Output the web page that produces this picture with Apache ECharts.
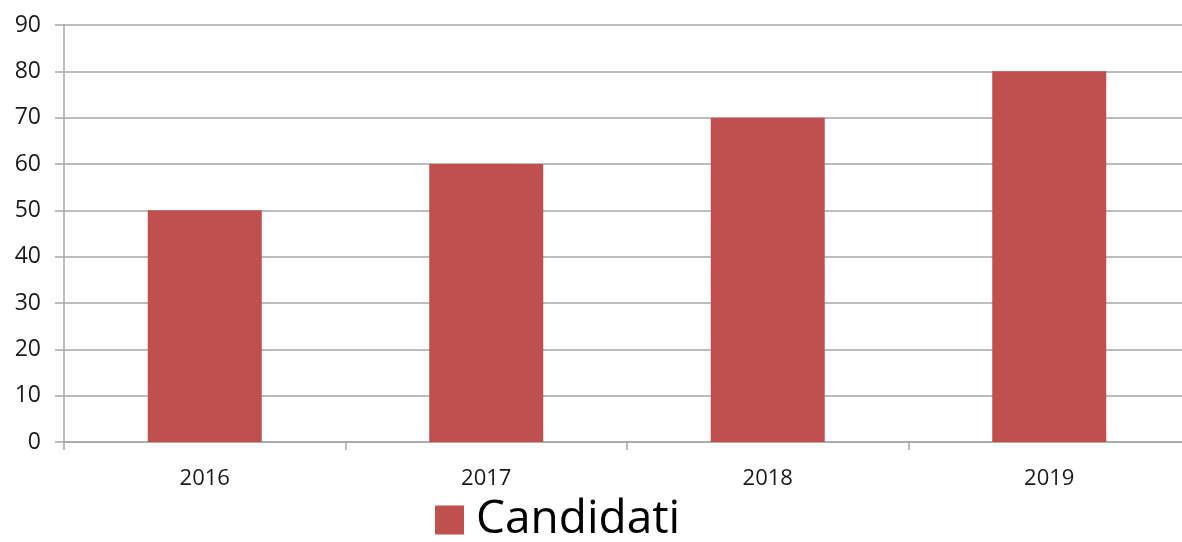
<!DOCTYPE html>
<html><head><meta charset="utf-8">
<script src="https://cdn.jsdelivr.net/npm/echarts@6/dist/echarts.min.js"></script>
<style>html,body{margin:0;padding:0;background:#fff;overflow:hidden}#c{width:1190px;height:542px}</style>
</head><body><div id="c"></div>
<script>
const categories = ['2016', '2017', '2018', '2019'];
const candidati = [50, 60, 70, 80];
const seriesName = 'Candidati';

const chart = echarts.init(document.getElementById('c'), null, {renderer: 'canvas'});
const axisGray = '#a6a6a6';
chart.setOption({
  animation: false,
  textStyle: {fontFamily: 'Open Sans'},
  grid: {left: 64, top: 25, right: 0, height: 417, containLabel: false},
  legend: {
    data: [seriesName], top: 497, left: 435, padding: 0,
    icon: 'rect', itemWidth: 29, itemHeight: 29, itemGap: 14,
    textStyle: {fontSize: 46, color: '#000', fontFamily: 'Open Sans', padding: [0, 0, 0, 7]}
  },
  xAxis: {
    type: 'category', data: categories,
    axisLine: {lineStyle: {color: axisGray, width: 1.5}},
    axisTick: {show: true, alignWithLabel: false, length: 8, lineStyle: {color: axisGray, width: 1.5}},
    axisLabel: {fontSize: 22, color: '#1a1a1a', margin: 26}
  },
  yAxis: {
    type: 'value', min: 0, max: 90, interval: 10,
    axisLine: {show: true, lineStyle: {color: axisGray, width: 1.5}},
    axisTick: {show: true, length: 9, lineStyle: {color: axisGray, width: 1.5}},
    axisLabel: {fontSize: 23, color: '#1a1a1a', margin: 23},
    splitLine: {lineStyle: {color: axisGray, width: 1.5}}
  },
  series: [{
    name: seriesName, type: 'bar', data: candidati, barWidth: '40.5%',
    itemStyle: {color: '#C0504D'}
  }]
});
</script></body></html>
